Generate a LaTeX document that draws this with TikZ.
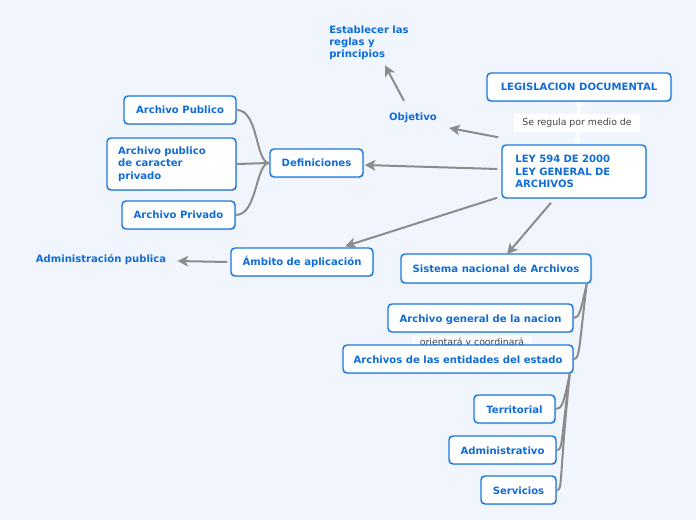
\documentclass[tikz,border=0pt]{standalone}
\usepackage{fontspec}
\setmainfont{DejaVu Sans}
\usetikzlibrary{arrows.meta,calc,shadows}
\definecolor{bg}{HTML}{F1F5FD}
\definecolor{bblue}{HTML}{1A78E0}
\definecolor{tblue}{HTML}{0F6CD8}
\definecolor{lgray}{HTML}{8C8C8C}
\definecolor{lbl}{HTML}{444444}
\tikzset{
  box/.style={draw=bblue, line width=1.1pt, fill=white, rounded corners=3pt, text=tblue,
    font=\bfseries\fontsize{7.55}{9.2}\selectfont, inner sep=0pt, minimum height=21pt,
    text height=6.6pt, text depth=0.6pt,
    drop shadow={shadow xshift=0.8pt, shadow yshift=-0.8pt, opacity=0.25, fill=gray}},
  plain/.style={text=tblue, font=\bfseries\fontsize{7.55}{9}\selectfont, inner sep=0pt, align=left},
  arr/.style={draw=lgray, line width=1.5pt, -{Stealth[length=8pt, width=8pt, inset=2pt]}},
  conn/.style={draw=lgray, line width=1.5pt},
  tree/.style={draw=lgray, line width=1.5pt},
  lab/.style={fill=white, text=lbl, font=\fontsize{7}{8}\selectfont, inner sep=0pt}
}
\begin{document}
\begin{tikzpicture}[x=0.75pt,y=-0.75pt]
\useasboundingbox (0,0) rectangle (696,520);
\fill[bg] (0,0) rectangle (696,520);

% connector legislacion -> ley (white)
\draw[white, line width=2pt] (579,101) -- (578,144);
\fill[white] (579,104) circle (3.5);
\fill[white] (577,141) circle (3.5);
\node[lab, minimum width=94.5pt, minimum height=13.5pt] (sr) at (577,123) {Se regula por medio de};

% nodes
\node[box, minimum width=138pt] (leg) at (579,87) {LEGISLACION DOCUMENTAL};
\node[box, minimum width=108pt, minimum height=39.75pt, text width=88pt, align=left, text height=, text depth=] (ley) at (574,171.5) {LEY 594 DE 2000\\LEY GENERAL DE\\ARCHIVOS};
\node[plain, anchor=north west] (est) at (329,26) {Establecer las\\reglas y\\principios};
\node[plain] (obj) at (413,118) {Objetivo};
\node[box, minimum width=69.75pt] (def) at (316.5,163) {Definiciones};
\node[box, minimum width=84pt] (ap) at (180,110) {Archivo Publico};
\node[box, minimum width=96.75pt, minimum height=39pt, text width=80pt, align=left, text height=, text depth=] (apcp) at (171.5,164) {Archivo publico\\de caracter\\privado};
\node[box, minimum width=84.75pt] (apr) at (178.5,215) {Archivo Privado};
\node[box, minimum width=106.5pt] (amb) at (302,262) {Ámbito de aplicación};
\node[plain] (adm) at (101,260) {Administración publica};
\node[box, minimum width=142.5pt, minimum height=21.75pt] (sna) at (496,268.5) {Sistema nacional de Archivos};
\node[box, minimum width=138.75pt] (agn) at (480.5,318) {Archivo general de la nacion};
\node[lab, fill=white!60!bg, minimum width=90pt, minimum height=11pt] (oc) at (472,343) {orientará y coordinará};
\node[box, minimum width=172.5pt] (aee) at (458,359) {Archivos de las entidades del estado};
\node[box, minimum width=60.75pt] (ter) at (514.5,409) {Territorial};
\node[box, minimum width=80.25pt] (adm2) at (502.5,450) {Administrativo};
\node[box, minimum width=56.25pt] (serv) at (518.5,490) {Servicios};

% arrows
\draw[arr] ($(ley.north west)+(-3,-7)$) -- ($(obj.east)+(12,10)$);
\draw[arr] ($(obj.north)+(-9,-12)$) -- ($(est.south)+(16,5)$);
\draw[arr] ($(ley.west)+(-4,-2.5)$) -- ($(def.east)+(1,2)$);
\draw[arr] ($(ley.south west)+(-4,-1)$) -- ($(amb.north)+(43,-1)$);
\draw[arr] ($(ley.south)+(-23,4)$) -- ($(sna.north)+(11,1)$);
\draw[arr] ($(amb.west)+(-3,0)$) -- ($(adm.east)+(11,1)$);

% definitions curves
\draw[conn] (ap.east) .. controls +(22,0) and +(-14,0) .. (def.west);
\draw[conn] (apcp.east) -- (def.west);
\draw[conn] (apr.east) .. controls +(22,0) and +(-14,0) .. (def.west);

% tree connectors
\draw[tree] ($(sna.south east)+(-5,0)$) .. controls +(-6,26) and +(6,0) .. (agn.east);
\draw[tree] ($(sna.south east)+(-5,0)$) .. controls +(-8,66) and +(6,0) .. (aee.east);
\draw[tree] ($(aee.south east)+(-4,0)$) .. controls +(-6,30) and +(6,0) .. (ter.east);
\draw[tree] ($(aee.south east)+(-4,0)$) .. controls +(-9,70) and +(6,0) .. (adm2.east);
\draw[tree] ($(aee.south east)+(-4,0)$) .. controls +(-11,110) and +(6,0) .. (serv.east);
\end{tikzpicture}
\end{document}
